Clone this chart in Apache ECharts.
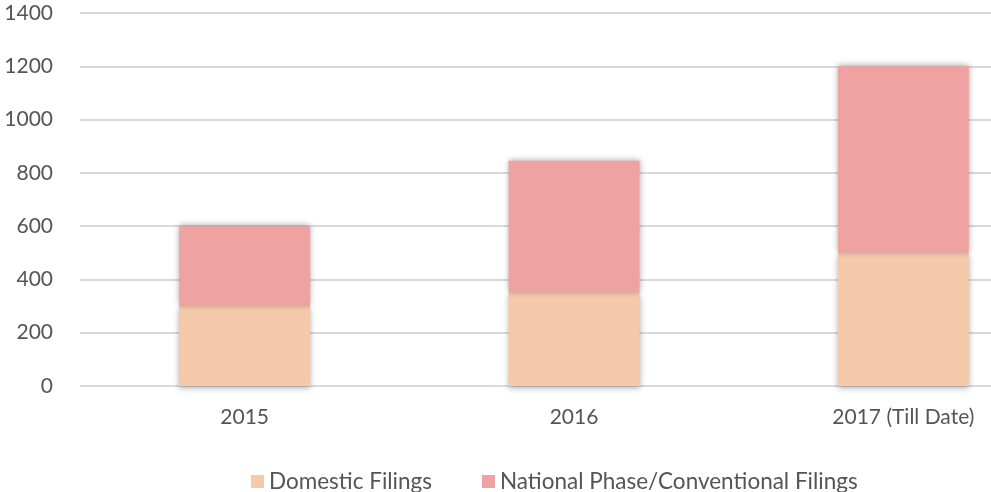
<!DOCTYPE html>
<html>
<head>
<meta charset="utf-8">
<script src="https://cdn.jsdelivr.net/npm/echarts@6/dist/echarts.min.js"></script>
<style>
  html, body { margin: 0; padding: 0; background: #fff; overflow: hidden; }
  #chart { width: 1068px; height: 492px; }
</style>
</head>
<body>
<div id="chart"></div>
<script>
const years = ['2015', '2016', '2017 (Till Date)']
const domestic = [300, 350, 500]
const national = [300, 495, 700]
const yTicks = { min: 0, max: 1400, interval: 200 }

const shadowOf = dy => ({
  shadowBlur: 6,
  shadowColor: 'rgba(0, 0, 0, 0.32)',
  shadowOffsetX: 0,
  shadowOffsetY: dy
})

const chart = echarts.init(document.getElementById('chart'))
chart.setOption({
  animation: false,
  textStyle: { fontFamily: 'Lato', color: '#555555' },
  color: ['#F5C9AA', '#EFA2A2'],
  // plot runs past the 991px window on the right, like the cropped original
  grid: { left: 80, right: 0, top: 13, bottom: 106, containLabel: false },
  legend: {
    left: 246,
    top: 465,
    itemWidth: 13,
    itemHeight: 13,
    itemGap: 50,
    icon: 'rect',
    textStyle: { fontSize: 22.5, color: '#555555' },
    data: ['Domestic Filings', 'National Phase/Conventional Filings']
  },
  xAxis: {
    type: 'category',
    data: years,
    axisLine: { show: false },
    axisTick: { show: false },
    axisLabel: { fontSize: 21, color: '#555555', margin: 21 }
  },
  yAxis: {
    type: 'value',
    min: yTicks.min,
    max: yTicks.max,
    interval: yTicks.interval,
    axisLine: { show: false },
    axisTick: { show: false },
    axisLabel: { fontSize: 21, color: '#555555', margin: 27, formatter: v => String(v) },
    splitLine: { lineStyle: { color: '#dadada', width: 2 } }
  },
  series: [
    {
      name: 'Domestic Filings',
      type: 'bar',
      stack: 'total',
      barWidth: 131,
      z: 2,
      itemStyle: shadowOf(2),
      data: domestic
    },
    {
      name: 'National Phase/Conventional Filings',
      type: 'bar',
      stack: 'total',
      barWidth: 131,
      z: 3,
      itemStyle: shadowOf(-1),
      data: national
    }
  ]
})
</script>
</body>
</html>
